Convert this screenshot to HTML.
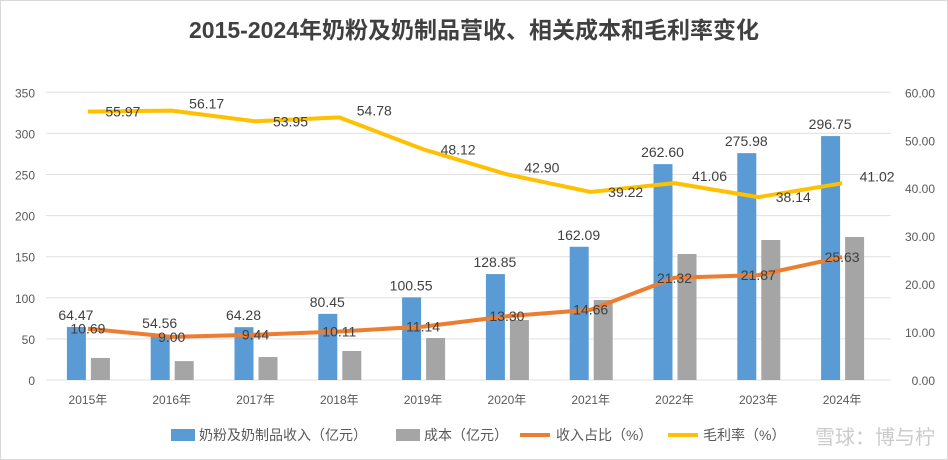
<!DOCTYPE html>
<html><head><meta charset="utf-8"><style>
body{margin:0;background:#fff;}
svg{display:block;font-family:"Liberation Sans","Noto Sans CJK SC",sans-serif;}
</style></head><body>
<svg id="c" width="948" height="460" xmlns="http://www.w3.org/2000/svg">
<rect x="0.5" y="0.5" width="947" height="459" fill="#fff" stroke="#d9d9d9"/>
<text x="474" y="38" text-anchor="middle" font-size="23" font-weight="bold" fill="#404040">2015-2024年奶粉及奶制品营收、相关成本和毛利率变化</text>
<g id="grid"></g><g id="bars"></g><g id="lines"></g><g id="labels"></g>
<g font-size="14" fill="#595959">
<rect x="171" y="429" width="24" height="12" fill="#5b9bd5"/>
<text x="199" y="440">奶粉及奶制品收入（亿元）</text>
<rect x="396" y="429" width="24" height="12" fill="#a5a5a5"/>
<text x="424" y="440">成本（亿元）</text>
<line x1="520" y1="435" x2="550" y2="435" stroke="#ed7d31" stroke-width="4"/>
<text x="556" y="440">收入占比（%）</text>
<line x1="668" y1="435" x2="698" y2="435" stroke="#ffc000" stroke-width="4"/>
<text x="703" y="440">毛利率（%）</text>
</g>
<text x="935" y="444" text-anchor="end" font-size="20" fill="#bfbfbf" opacity="0.8">雪球：博与柠</text>
</svg>
<script>
const categories=["2015年","2016年","2017年","2018年","2019年","2020年","2021年","2022年","2023年","2024年"];
const revenue=[64.47,54.56,64.28,80.45,100.55,128.85,162.09,262.60,275.98,296.75];
const cost=[26.8,23,28,35.3,51.1,73,97.3,153.3,170.3,174];
const share=[10.69,9.00,9.44,10.11,11.14,13.30,14.66,21.32,21.87,25.63];
const margin=[55.97,56.17,53.95,54.78,48.12,42.90,39.22,41.06,38.14,41.02];
const leftTicks=[0,50,100,150,200,250,300,350];
const rightTicks=["0.00","10.00","20.00","30.00","40.00","50.00","60.00"];
const NS="http://www.w3.org/2000/svg";
const X0=46,X1=884,Y0=380,Y1=92.3;
const band=(X1-X0)/categories.length;
const cx=i=>X0+band*(i+0.5);
const yL=v=>Y0-(v/350)*(Y0-Y1);
const yR=v=>Y0-(v/60)*(Y0-Y1);
function mk(tag,attrs,parent,txt){const e=document.createElementNS(NS,tag);for(const k in attrs)e.setAttribute(k,attrs[k]);if(txt!==undefined)e.textContent=txt;document.getElementById(parent).appendChild(e);return e;}
leftTicks.forEach(v=>{
 const l=mk('line',{x1:X0,x2:891,y1:yL(v),y2:yL(v),stroke:'#e0e0e0','stroke-width':1},'grid');
 
 
 const t=mk('text',{x:35,y:yL(v)+5,'text-anchor':'end','font-size':12,fill:'#595959'},'grid',v);
 
 
});
rightTicks.forEach(s=>{
 const t=mk('text',{x:935,y:yR(parseFloat(s))+5,'text-anchor':'end','font-size':12,fill:'#595959'},'grid',s);
 
 
});
categories.forEach((c,i)=>{
 const t=mk('text',{x:cx(i),y:404,'text-anchor':'middle','font-size':12,fill:'#595959'},'grid',c);
 
 
 const b=mk('rect',{x:cx(i)-21,y:yL(revenue[i]),width:19,height:Y0-yL(revenue[i]),fill:'#5b9bd5'},'bars');
 
 
 const g=mk('rect',{x:cx(i)+3,y:yL(cost[i]),width:19,height:Y0-yL(cost[i]),fill:'#a5a5a5'},'bars');
 
 
 const rl=mk('text',{x:cx(i)-12,y:yL(revenue[i])-7,'text-anchor':'middle','font-size':14,fill:'#404040'},'labels',revenue[i].toFixed(2));
 
 
 const sl=mk('text',{x:cx(i),y:yR(share[i])+5,'text-anchor':'middle','font-size':14,fill:'#404040'},'labels',share[i].toFixed(2));
 
 
 const ml=mk('text',{x:cx(i)+35,y:yR(margin[i])+ (i%2? -2:5),'text-anchor':'middle','font-size':14,fill:'#404040'},'labels',margin[i].toFixed(2));
 
 
});
const p1=mk('polyline',{points:share.map((v,i)=>cx(i)+','+yR(v)).join(' '),fill:'none',stroke:'#ed7d31','stroke-width':4,'stroke-linejoin':'round'},'lines');


const p2=mk('polyline',{points:margin.map((v,i)=>cx(i)+','+yR(v)).join(' '),fill:'none',stroke:'#ffc000','stroke-width':4,'stroke-linejoin':'round'},'lines');


</script>
</body></html>
